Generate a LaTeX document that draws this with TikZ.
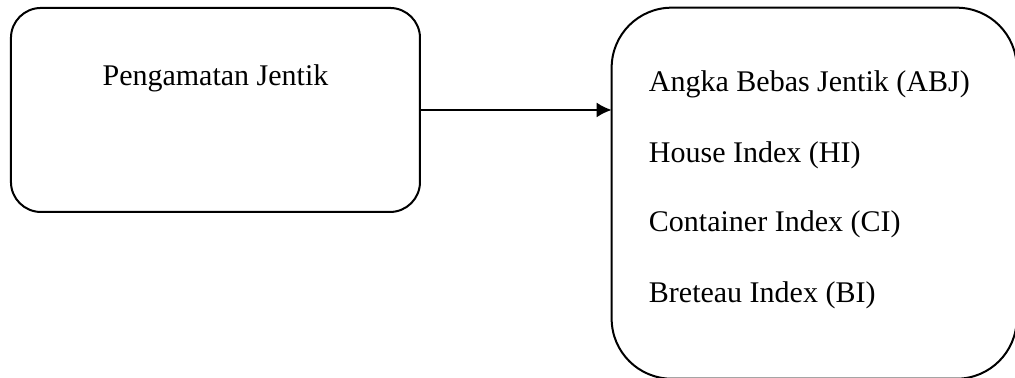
\documentclass[tikz,border=0pt]{standalone}
\usepackage{fontspec}
\setmainfont{Liberation Serif}
\usetikzlibrary{positioning, arrows.meta}

\begin{document}
\begin{tikzpicture}[
    >={Latex[length=6pt, width=6pt]}, line width=0.8pt,
    box/.style={draw, rectangle, inner sep=0pt, outer sep=0pt},
    item/.style={anchor=base west, inner sep=0pt, font=\fontsize{12}{14}\selectfont}
]

\useasboundingbox (0, 0) rectangle (14.268, -5.301);

% Boxes
\node[box, rounded corners=12pt, minimum width=163.6pt, minimum height=81.6pt] (Obs) at (3.029, -1.546) {};
\node[box, rounded corners=24pt, minimum width=162pt, minimum height=148.4pt] (Ind) at (11.445, -2.716) {};

\node[anchor=base, inner sep=0pt, font=\fontsize{12}{14}\selectfont] (ObsLabel) at (3.029, -1.209) {Pengamatan Jentik};

% Indicators
\node[item] (ABJ) at (9.108, -1.293) {Angka Bebas Jentik (ABJ)};
\node[item] (HI) at (9.108, -2.291) {House Index (HI)};
\node[item] (CI) at (9.108, -3.261) {Container Index (CI)};
\node[item] (BI) at (9.108, -4.259) {Breteau Index (BI)};

\draw[->] (Obs.east) -- (Obs.east -| Ind.west);

\end{tikzpicture}
\end{document}
